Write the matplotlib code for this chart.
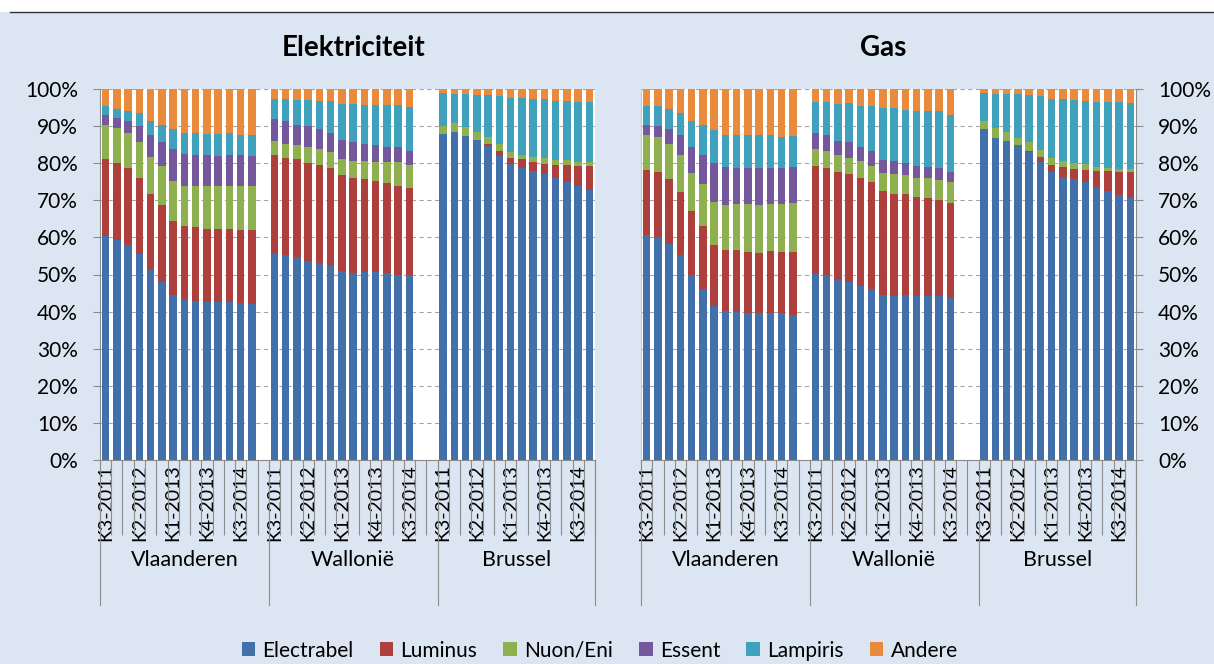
import matplotlib.pyplot as plt
import numpy as np
from matplotlib.patches import Rectangle
from matplotlib.lines import Line2D
from matplotlib.ticker import PercentFormatter, FixedLocator
from matplotlib.transforms import blended_transform_factory

plt.rcParams['font.family'] = ['Lato', 'DejaVu Sans']

# ---- data (aandelen in %, per kwartaal) ----
quarters = ['K3-2011', 'K4-2011', 'K1-2012', 'K2-2012', 'K3-2012', 'K4-2012',
            'K1-2013', 'K2-2013', 'K3-2013', 'K4-2013', 'K1-2014', 'K2-2014',
            'K3-2014', 'K4-2014']
regions = ['Vlaanderen', 'Wallonië', 'Brussel']
suppliers = ['Electrabel', 'Luminus', 'Nuon/Eni', 'Essent', 'Lampiris', 'Andere']
colors = ['#4270ab', '#ad403c', '#8fb04e', '#75579b', '#40a1bd', '#e98a3c']

elek_vlaanderen = {
    'Electrabel': [60.3, 59.3, 57.9, 55.5, 51.1, 48.1, 44.5, 43.1, 42.8, 42.5, 42.5, 42.6, 42.4, 42.1],
    'Luminus':    [20.9, 20.8, 20.8, 20.5, 20.7, 20.7, 19.8, 20.1, 20.1, 19.8, 19.8, 19.7, 19.6, 19.9],
    'Nuon/Eni':   [9.1, 9.5, 9.5, 9.6, 9.9, 10.4, 10.8, 10.7, 11.0, 11.5, 11.5, 11.6, 11.8, 11.9],
    'Essent':     [2.6, 2.5, 3.2, 4.4, 5.9, 6.4, 8.6, 8.5, 8.3, 8.4, 8.1, 8.3, 8.3, 8.1],
    'Lampiris':   [2.6, 2.5, 2.8, 3.5, 3.9, 4.7, 5.5, 5.8, 6.0, 5.7, 6.0, 5.9, 5.5, 5.6],
    'Andere':     [4.5, 5.4, 5.8, 6.5, 8.5, 9.7, 10.8, 11.8, 11.8, 12.1, 12.1, 11.9, 12.4, 12.4],
}
elek_wallonie = {
    'Electrabel': [55.7, 55.2, 54.6, 53.7, 53.1, 52.3, 50.9, 50.3, 50.6, 50.6, 50.3, 50.0, 50.0],
    'Luminus':    [26.4, 26.3, 26.4, 26.4, 26.5, 26.3, 25.8, 25.7, 25.1, 24.5, 24.3, 23.8, 23.4],
    'Nuon/Eni':   [3.9, 3.8, 3.9, 4.2, 4.1, 4.4, 4.5, 4.6, 4.9, 5.3, 5.8, 6.6, 6.1],
    'Essent':     [5.9, 6.0, 5.4, 5.6, 5.5, 5.2, 5.0, 5.1, 4.7, 4.4, 3.9, 3.9, 3.8],
    'Lampiris':   [5.5, 6.1, 6.8, 7.2, 7.5, 8.5, 9.8, 10.3, 10.4, 10.9, 11.3, 11.3, 11.8],
    'Andere':     [2.6, 2.6, 2.9, 2.9, 3.3, 3.3, 4.0, 4.0, 4.3, 4.3, 4.4, 4.4, 4.9],
}
elek_brussel = {
    'Electrabel': [87.9, 88.5, 87.3, 86.2, 84.6, 81.9, 79.9, 78.7, 77.8, 77.0, 76.0, 74.8, 73.8, 72.9],
    'Luminus':    [0.0, 0.0, 0.0, 0.0, 0.6, 1.4, 1.5, 2.3, 2.6, 2.9, 3.5, 4.7, 5.4, 6.3],
    'Nuon/Eni':   [2.2, 2.3, 2.4, 2.2, 1.8, 1.8, 1.7, 1.2, 1.3, 1.4, 1.3, 1.3, 1.2, 1.2],
    'Essent':     [0.0, 0.0, 0.0, 0.0, 0.0, 0.0, 0.0, 0.0, 0.0, 0.0, 0.0, 0.0, 0.0, 0.0],
    'Lampiris':   [8.8, 7.9, 9.0, 10.0, 11.4, 13.1, 14.5, 15.4, 15.6, 16.0, 15.9, 15.9, 16.0, 16.0],
    'Andere':     [1.1, 1.3, 1.3, 1.6, 1.6, 1.8, 2.4, 2.4, 2.7, 2.7, 3.3, 3.3, 3.6, 3.6],
}
gas_vlaanderen = {
    'Electrabel': [60.6, 60.2, 58.2, 55.2, 49.8, 46.2, 41.4, 40.1, 39.9, 39.6, 39.5, 39.6, 39.5, 39.0],
    'Luminus':    [17.6, 17.4, 17.5, 17.1, 17.3, 17.0, 16.5, 16.4, 16.6, 16.5, 16.4, 16.8, 16.6, 17.1],
    'Nuon/Eni':   [9.5, 9.4, 9.4, 9.8, 10.2, 11.1, 11.6, 12.2, 12.4, 12.8, 12.8, 12.6, 12.9, 13.1],
    'Essent':     [2.7, 3.1, 4.1, 5.6, 7.2, 8.0, 10.5, 10.4, 9.7, 9.7, 9.9, 9.8, 9.8, 9.7],
    'Lampiris':   [4.9, 5.2, 5.4, 5.8, 7.0, 7.9, 9.0, 8.6, 8.9, 8.9, 8.9, 8.9, 8.3, 8.3],
    'Andere':     [4.7, 4.7, 5.4, 6.5, 8.5, 9.8, 11.0, 12.3, 12.5, 12.5, 12.5, 12.3, 12.9, 12.8],
}
gas_wallonie = {
    'Electrabel': [50.1, 49.8, 48.6, 48.0, 46.9, 46.2, 44.4, 44.1, 44.4, 44.1, 44.1, 44.1, 43.7],
    'Luminus':    [29.2, 28.8, 29.0, 29.0, 29.0, 28.7, 28.2, 27.6, 27.3, 26.9, 26.4, 26.0, 25.5],
    'Nuon/Eni':   [4.6, 4.8, 4.5, 4.5, 4.6, 4.4, 4.7, 5.3, 5.0, 5.1, 5.4, 5.4, 5.6],
    'Essent':     [4.2, 4.3, 4.0, 4.2, 4.0, 4.1, 3.6, 3.5, 3.3, 3.2, 3.2, 3.1, 2.9],
    'Lampiris':   [8.4, 8.8, 9.8, 10.5, 10.8, 11.9, 14.1, 14.5, 14.4, 14.8, 15.0, 15.5, 15.4],
    'Andere':     [3.5, 3.5, 4.1, 3.8, 4.7, 4.7, 5.0, 5.0, 5.6, 5.9, 5.9, 5.9, 6.9],
}
gas_brussel = {
    'Electrabel': [89.3, 86.9, 85.9, 84.8, 83.0, 80.3, 77.5, 76.4, 75.7, 74.8, 73.6, 72.5, 71.4, 70.7],
    'Luminus':    [0.0, 0.0, 0.0, 0.0, 0.4, 1.5, 2.0, 2.5, 2.7, 3.4, 4.3, 5.4, 6.2, 6.9],
    'Nuon/Eni':   [2.2, 2.6, 2.5, 2.1, 2.2, 1.8, 1.9, 1.6, 1.6, 1.5, 1.2, 0.9, 0.9, 0.9],
    'Essent':     [0.0, 0.0, 0.0, 0.0, 0.0, 0.0, 0.0, 0.0, 0.0, 0.0, 0.0, 0.0, 0.0, 0.0],
    'Lampiris':   [7.4, 9.1, 10.2, 11.7, 12.9, 14.4, 16.0, 16.9, 17.1, 17.2, 17.4, 17.7, 18.0, 17.7],
    'Andere':     [1.1, 1.4, 1.4, 1.4, 1.5, 2.0, 2.6, 2.6, 2.9, 3.1, 3.5, 3.5, 3.5, 3.8],
}

# plaats van elke regio op de categorie-as (lege categorieen ertussen)
group_offsets = [0, 15, 30]
group_edges = [-0.5, 14.5, 29.5, 43.5]
label_idx = [0, 3, 6, 9, 12]

bg = '#dce6f2'
axis_col = '#8c8c8c'


def draw_panel(ax, panel_data, right=False):
    ax.set_facecolor('white')
    for off, region in zip(group_offsets, regions):
        shares = panel_data[region]
        n = len(shares['Electrabel'])
        x = off + np.arange(n)
        bottom = np.zeros(n)
        for sup, col in zip(suppliers, colors):
            vals = np.array(shares[sup])
            ax.bar(x, vals, 0.68, bottom=bottom, color=col, label=sup, zorder=3)
            bottom += vals

    ax.set_xlim(-0.5, 43.5)
    ax.set_ylim(0, 100)
    ax.set_yticks(np.arange(0, 101, 10))
    ax.yaxis.set_major_formatter(PercentFormatter(decimals=0))
    ax.yaxis.grid(True, linestyle=(0, (4, 3)), color='#a6a6a6', linewidth=0.8, zorder=0)
    ax.set_axisbelow(True)

    # categorie labels
    pos, labs = [], []
    for off in group_offsets:
        for i in label_idx:
            pos.append(off + i)
            labs.append(quarters[i])
    ax.xaxis.set_major_locator(FixedLocator(pos))
    ax.set_xticklabels(labs, rotation=90, fontsize=14)
    ax.xaxis.set_minor_locator(FixedLocator(np.arange(-0.5, 44, 1)))
    ax.tick_params(axis='x', which='major', length=0, pad=3)
    ax.tick_params(axis='x', which='minor', length=54, color=axis_col, width=0.8)

    for s in ax.spines.values():
        s.set_visible(False)
    ax.spines['bottom'].set_visible(True)
    ax.spines['bottom'].set_color(axis_col)
    if right:
        ax.yaxis.tick_right()
        ax.spines['right'].set_visible(True)
        ax.spines['right'].set_color(axis_col)
        ax.spines['left'].set_visible(True)
        ax.spines['left'].set_color('#c8c8c8')
    else:
        ax.spines['left'].set_visible(True)
        ax.spines['left'].set_color(axis_col)
    ax.tick_params(axis='y', length=5, color=axis_col, labelsize=15, pad=11)

    # regio-niveau van de as
    trans = blended_transform_factory(ax.transData, ax.transAxes)
    for e in group_edges:
        ax.plot([e, e], [0, -0.39], transform=trans, clip_on=False,
                color=axis_col, linewidth=0.8)
    for k, region in enumerate(regions):
        xc = (group_edges[k] + group_edges[k + 1]) / 2
        ax.text(xc, -0.27, region, transform=trans, ha='center', va='center',
                fontsize=15.5)


fig = plt.figure(figsize=(12.14, 6.64), dpi=100, facecolor=bg)
fig.add_artist(Rectangle((0, 1 - 12 / 664), 1, 12 / 664, transform=fig.transFigure,
                         facecolor='white', edgecolor='none'))
fig.add_artist(Line2D([0.008, 1], [1 - 12 / 664, 1 - 12 / 664], color='#333333',
                      linewidth=1.0, transform=fig.transFigure))

ax1 = fig.add_axes([100 / 1214, 1 - 460 / 664, 495 / 1214, 371 / 664])
ax2 = fig.add_axes([641 / 1214, 1 - 460 / 664, 495 / 1214, 371 / 664])

draw_panel(ax1, dict(zip(regions, [elek_vlaanderen, elek_wallonie, elek_brussel])))
draw_panel(ax2, dict(zip(regions, [gas_vlaanderen, gas_wallonie, gas_brussel])), right=True)

fig.text(354 / 1214, 1 - 48 / 664, 'Elektriciteit', ha='center', va='center',
         fontsize=20, fontweight='bold')
fig.text(883 / 1214, 1 - 48 / 664, 'Gas', ha='center', va='center',
         fontsize=20, fontweight='bold')

handles, labels = ax1.get_legend_handles_labels()
fig.legend(handles[:6], labels[:6], loc='center', bbox_to_anchor=(0.494, 0.02),
           ncol=6, frameon=False, fontsize=15, handlelength=0.65, handleheight=0.65,
           handletextpad=0.35, columnspacing=1.25)

fig.savefig('out.png', dpi=100, facecolor=bg)
